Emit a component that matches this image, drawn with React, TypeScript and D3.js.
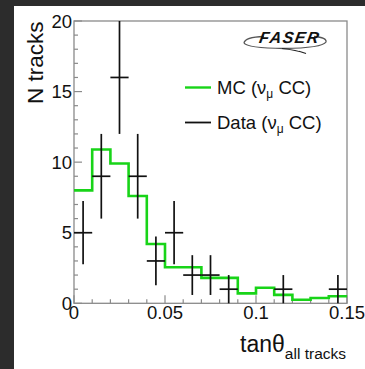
import React from "react";
import * as d3 from "d3";

const binEdges = [0, 0.01, 0.02, 0.03, 0.04, 0.05, 0.06, 0.07, 0.08, 0.09, 0.1, 0.11, 0.12, 0.13, 0.14, 0.15];
const mcValues = [8.0, 10.9, 9.9, 7.6, 4.2, 2.55, 2.55, 1.8, 1.8, 0.7, 1.1, 0.6, 0.25, 0.38, 0.5];
const dataValues = [5, 9, 16, 9, 3, 5, 2, 2, 1, 0, 0, 1, 0, 0, 1];
const dataErrors = [2.24, 3, 4, 3, 1.73, 2.24, 1.41, 1.41, 1, 0, 0, 1, 0, 0, 1];
const xTicks = [0, 0.05, 0.1, 0.15];
const xTickLabels = ["0", "0.05", "0.1", "0.15"];
const yTicks = [0, 5, 10, 15, 20];
const yTickLabels = ["0", "5", "10", "15", "20"];

const W = 365;
const H = 369;
const FONT = "'Liberation Sans', Arial, Helvetica, sans-serif";

export default function App() {
  const x = d3.scaleLinear().domain([0, 0.15]).range([74, 347]);
  const y = d3.scaleLinear().domain([0, 20]).range([303.3, 21]);

  const mcPts: [number, number][] = mcValues.map((v, i) => [binEdges[i], v]);
  mcPts.push([binEdges[binEdges.length - 1], mcValues[mcValues.length - 1]]);
  const mcLine = d3
    .line<[number, number]>()
    .x((d) => x(d[0]))
    .y((d) => y(d[1]))
    .curve(d3.curveStepAfter)(mcPts) as string;

  const xMinor = d3.range(0, 16).map((i) => i * 0.01);
  const yMinor = d3.range(0, 21);
  const axisColor = "#8a8a8a";

  return (
    <div style={{ position: "fixed", left: 0, top: 0 }}>
      <svg width={W} height={H} style={{ display: "block" }} fontFamily={FONT}>
        <rect x={0} y={0} width={W} height={H} fill="#2c2c2c" />
        <rect x={14} y={6} width={W - 14} height={H - 6} fill="#ffffff" />

        {/* frame */}
        <rect
          x={x(0)}
          y={y(20)}
          width={x(0.15) - x(0)}
          height={y(0) - y(20)}
          fill="none"
          stroke={axisColor}
          strokeWidth={1.3}
        />

        {/* x ticks */}
        {xMinor.map((t, i) => {
          const major = i % 5 === 0;
          return (
            <line
              key={"xt" + i}
              x1={x(t)}
              x2={x(t)}
              y1={y(0)}
              y2={y(0) - (major ? 8 : 4)}
              stroke={axisColor}
              strokeWidth={1.2}
            />
          );
        })}
        {/* y ticks */}
        {yMinor.map((t, i) => {
          const major = i % 5 === 0;
          return (
            <line
              key={"yt" + i}
              x1={x(0)}
              x2={x(0) + (major ? 8 : 4)}
              y1={y(t)}
              y2={y(t)}
              stroke={axisColor}
              strokeWidth={1.2}
            />
          );
        })}

        {/* MC histogram */}
        <path d={mcLine} fill="none" stroke="#18d418" strokeWidth={2.6} />

        {/* Data points */}
        {dataValues.map((v, i) => {
          if (v <= 0) return null;
          const lo = binEdges[i];
          const hi = binEdges[i + 1];
          const c = (lo + hi) / 2;
          const e = dataErrors[i];
          return (
            <g key={"d" + i} stroke="#111" strokeWidth={1.7}>
              <line x1={x(lo)} x2={x(hi)} y1={y(v)} y2={y(v)} />
              <line x1={x(c)} x2={x(c)} y1={y(Math.max(0, v - e))} y2={y(Math.min(20, v + e))} />
            </g>
          );
        })}

        {/* y tick labels */}
        {yTicks.map((t, i) => (
          <text
            key={"yl" + i}
            x={72}
            y={y(t) + 6.5}
            textAnchor="end"
            fontSize={18.5}
            fill="#111"
          >
            {yTickLabels[i]}
          </text>
        ))}
        {/* x tick labels */}
        {xTicks.map((t, i) => (
          <text
            key={"xl" + i}
            x={x(t)}
            y={319}
            textAnchor="middle"
            fontSize={18.5}
            fill="#111"
          >
            {xTickLabels[i]}
          </text>
        ))}

        {/* axis titles */}
        <text
          transform="translate(43,21.5) rotate(-90)"
          textAnchor="end"
          fontSize={22.5}
          fill="#111"
        >
          N tracks
        </text>
        <text x={346} y={351.5} textAnchor="end" fontSize={23} fill="#111">
          tanθ
          <tspan fontSize={15.5} dy={7}>
            all tracks
          </tspan>
        </text>

        {/* legend */}
        <line x1={185} x2={211} y1={87.5} y2={87.5} stroke="#18d418" strokeWidth={2.4} />
        <text x={217} y={94} fontSize={18.5} fill="#111">
          MC (ν
          <tspan fontSize={12} dy={4}>μ</tspan>
          <tspan dy={-4}> CC)</tspan>
        </text>
        <line x1={185} x2={211} y1={122.5} y2={122.5} stroke="#111" strokeWidth={1.8} />
        <text x={217} y={129} fontSize={18.5} fill="#111">
          Data (ν
          <tspan fontSize={12} dy={4}>μ</tspan>
          <tspan dy={-4}> CC)</tspan>
        </text>

        {/* FASER logo */}
        <g>
          <path
            d="M 244 43 Q 245 37 264 36.5 M 314 36.5 Q 327 37.5 326 42 Q 322 48 284 48.5 Q 247 48 244 43"
            fill="none"
            stroke="#555"
            strokeWidth={1.3}
          />
          <path d="M 282 48.5 Q 296 50 306 53.5 L 299 51.2" fill="none" stroke="#222" strokeWidth={1.2} />
          <text
            x={289}
            y={43.5}
            textAnchor="middle"
            fontSize={16}
            fontWeight="bold"
            fontStyle="italic"
            fill="#111"
            letterSpacing={1.5}
            transform="skewX(-10)"
            style={{ transformOrigin: "289px 43px" }}
          >
            FASER
          </text>
        </g>
      </svg>
    </div>
  );
}
